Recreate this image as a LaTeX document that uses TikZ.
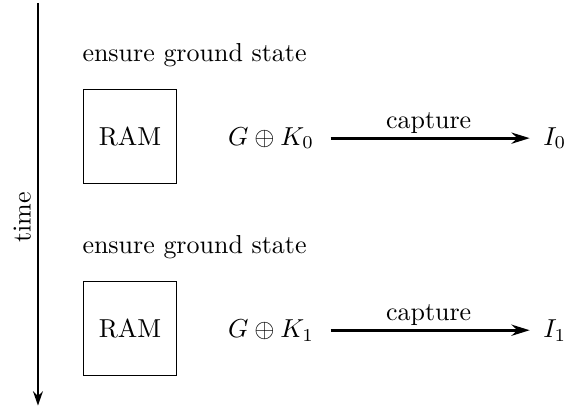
\documentclass[tikz,border=0pt]{standalone}
\usepackage{amsmath}
\usetikzlibrary{arrows.meta}

\begin{document}
\begin{tikzpicture}[>={Stealth[length=7pt,width=4.3pt]}]

\useasboundingbox (0,0) rectangle (7.77,-5.51);

% ------------------------------------------------------------------
% Time axis on the left
% ------------------------------------------------------------------
\coordinate (T0) at (0.514,-0.04);
\coordinate (T1) at (0.514,-5.49);
\draw[thick,-{Stealth[length=5.5pt,width=3.8pt]}] (T0) -- (T1);
\node[rotate=90] (time) at (0.30,-2.94) {time};

% ------------------------------------------------------------------
% First round
% ------------------------------------------------------------------
\node[anchor=west,inner sep=0pt] (E0) at (1.11,-0.74) {ensure ground state};
\node[draw,minimum size=1.27cm] (RAM0) at (1.76,-1.85) {RAM};

\node (GK0) at (3.67,-1.87) {$G \oplus K_0$};
\node (I0)  at (7.51,-1.87) {$I_0$};

\draw[->,line width=1.1pt,shorten <=1mm,shorten >=0.6mm] (GK0) -- (I0)
  node[midway,above,yshift=-2pt] {capture};

% ------------------------------------------------------------------
% Second round
% ------------------------------------------------------------------
\node[anchor=west,inner sep=0pt] (E1) at (1.11,-3.34) {ensure ground state};
\node[draw,minimum size=1.27cm] (RAM1) at (1.76,-4.45) {RAM};

\node (GK1) at (3.67,-4.47) {$G \oplus K_1$};
\node (I1)  at (7.51,-4.47) {$I_1$};

\draw[->,line width=1.1pt,shorten <=1mm,shorten >=0.6mm] (GK1) -- (I1)
  node[midway,above,yshift=-2pt] {capture};

\end{tikzpicture}
\end{document}
